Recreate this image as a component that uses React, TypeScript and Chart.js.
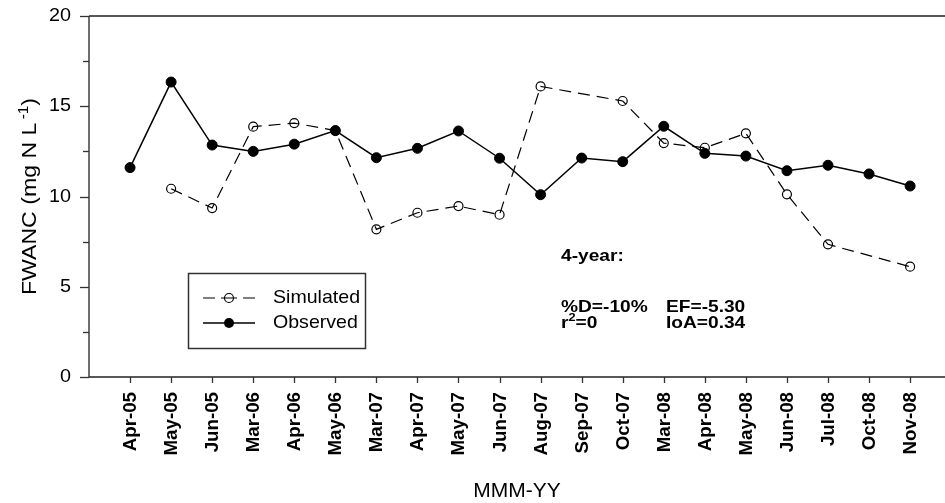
import React, { useEffect, useRef } from "react";
import { Chart, registerables } from "chart.js";

Chart.register(...registerables);

// Sampling months (MMM-YY)
const months: string[] = [
  "Apr-05", "May-05", "Jun-05", "Mar-06", "Apr-06", "May-06", "Mar-07",
  "Apr-07", "May-07", "Jun-07", "Aug-07", "Sep-07", "Oct-07", "Mar-08",
  "Apr-08", "May-08", "Jun-08", "Jul-08", "Oct-08", "Nov-08",
];

// Flow-weighted average nitrate concentration, mg N L-1
const simulated: (number | null)[] = [
  null, 10.43, 9.36, 13.87, 14.07, 13.65, 8.18, 9.1, 9.47, 8.99,
  16.1, null, 15.29, 12.96, 12.7, 13.5, 10.12, 7.35, null, 6.11,
];
const observed: number[] = [
  11.6, 16.34, 12.85, 12.5, 12.9, 13.65, 12.15, 12.67, 13.63, 12.12,
  10.1, 12.13, 11.93, 13.89, 12.39, 12.24, 11.43, 11.73, 11.25, 10.58,
];

const yTicks: number[] = [0, 2.5, 5, 7.5, 10, 12.5, 15, 17.5, 20];

const FONT = "'Liberation Sans', Arial, Helvetica, sans-serif";
const SIM_DASH = [12, 7];

// draw text with a horizontal stretch factor along its own baseline
function wideText(ctx: any, text: string, x: number, y: number, k: number, align: string) {
  ctx.save();
  ctx.translate(x, y);
  ctx.scale(k, 1);
  ctx.textAlign = align;
  ctx.fillText(text, 0, 0);
  ctx.restore();
}

const decorations = {
  id: "decorations",
  afterDraw(chart: any) {
    const { ctx, chartArea, scales } = chart;
    const xs = scales.x;
    const ys = scales.y;
    const L = chartArea.left;
    const R = chartArea.right;
    const T = chartArea.top;
    const B = chartArea.bottom;
    ctx.save();

    // frame lines: left axis, bottom axis, top edge
    ctx.lineWidth = 1.6;
    ctx.strokeStyle = "#4a4a4a";
    ctx.beginPath();
    ctx.moveTo(L, T);
    ctx.lineTo(L, B);
    ctx.stroke();
    ctx.strokeStyle = "#222";
    ctx.beginPath();
    ctx.moveTo(L, B);
    ctx.lineTo(R, B);
    ctx.moveTo(L, T);
    ctx.lineTo(R, T);
    ctx.stroke();

    // y ticks (major every 5, minor between) and labels
    ctx.strokeStyle = "#333";
    ctx.lineWidth = 1.3;
    ctx.fillStyle = "#000";
    ctx.font = `18px ${FONT}`;
    ctx.textBaseline = "middle";
    yTicks.forEach((v) => {
      const py = Math.round(ys.getPixelForValue(v)) + 0.5;
      const major = v % 5 === 0;
      const len = major ? 9 : 6;
      ctx.beginPath();
      ctx.moveTo(L - len, py);
      ctx.lineTo(L, py);
      ctx.stroke();
      if (major) wideText(ctx, String(v), 71, py, 1.1, "right");
    });

    // x ticks and rotated bold labels
    ctx.font = `bold 18px ${FONT}`;
    months.forEach((m, i) => {
      const px = Math.round(xs.getPixelForValue(i)) + 0.5;
      ctx.beginPath();
      ctx.moveTo(px, B);
      ctx.lineTo(px, B + 6);
      ctx.stroke();
      ctx.save();
      ctx.translate(px + 1, 392);
      ctx.rotate(-Math.PI / 2);
      ctx.scale(1.04, 1);
      ctx.textAlign = "right";
      ctx.textBaseline = "middle";
      ctx.fillText(m, 0, 0);
      ctx.restore();
    });

    // y-axis title with superscript
    const cy = (T + B) / 2;
    ctx.save();
    ctx.translate(36, cy);
    ctx.rotate(-Math.PI / 2);
    ctx.scale(1.1, 1);
    ctx.textBaseline = "alphabetic";
    ctx.textAlign = "left";
    const mainFont = `21px ${FONT}`;
    const supFont = `14px ${FONT}`;
    const t1 = "FWANC (mg N L";
    const t2 = "-1";
    const t3 = ")";
    ctx.font = mainFont;
    const w1 = ctx.measureText(t1).width;
    const w3 = ctx.measureText(t3).width;
    ctx.font = supFont;
    const w2 = ctx.measureText(t2).width;
    const gap = 3;
    let x0 = -(w1 + gap + w2 + w3) / 2;
    ctx.font = mainFont;
    ctx.fillText(t1, x0, 0);
    x0 += w1 + gap;
    ctx.font = supFont;
    ctx.fillText(t2, x0, -8);
    x0 += w2;
    ctx.font = mainFont;
    ctx.fillText(t3, x0, 0);
    ctx.restore();

    // x-axis title
    ctx.font = `20px ${FONT}`;
    ctx.textBaseline = "alphabetic";
    wideText(ctx, "MMM-YY", (L + R) / 2, 497, 1.05, "center");

    // legend
    ctx.strokeStyle = "#333";
    ctx.lineWidth = 1.5;
    ctx.strokeRect(188.5, 273.5, 177, 75);
    const rowSim = 298;
    const rowObs = 323;
    ctx.strokeStyle = "#000";
    ctx.lineWidth = 1.2;
    ctx.beginPath();
    ctx.moveTo(203, rowSim);
    ctx.lineTo(215, rowSim);
    ctx.moveTo(221, rowSim);
    ctx.lineTo(237, rowSim);
    ctx.moveTo(243, rowSim);
    ctx.lineTo(255, rowSim);
    ctx.stroke();
    ctx.beginPath();
    ctx.arc(229, rowSim, 4.5, 0, Math.PI * 2);
    ctx.stroke();
    ctx.lineWidth = 1.5;
    ctx.beginPath();
    ctx.moveTo(203, rowObs);
    ctx.lineTo(255, rowObs);
    ctx.stroke();
    ctx.beginPath();
    ctx.arc(229, rowObs, 5, 0, Math.PI * 2);
    ctx.fill();
    ctx.font = `19px ${FONT}`;
    ctx.textBaseline = "middle";
    wideText(ctx, "Simulated", 273, rowSim, 1.03, "left");
    wideText(ctx, "Observed", 273, rowObs, 1.03, "left");

    // fit statistics
    ctx.textBaseline = "alphabetic";
    const K = 1.16;
    const bold = `bold 16.5px ${FONT}`;
    ctx.font = bold;
    wideText(ctx, "4-year:", 561, 261, K, "left");
    wideText(ctx, "%D=-10%", 561, 312, K, "left");
    wideText(ctx, "EF=-5.30", 666, 312, K, "left");
    wideText(ctx, "r", 561, 328, K, "left");
    const wr = ctx.measureText("r").width * K;
    ctx.font = `bold 11px ${FONT}`;
    wideText(ctx, "2", 561 + wr, 321, K, "left");
    const w2b = ctx.measureText("2").width * K;
    ctx.font = bold;
    wideText(ctx, "=0", 561 + wr + w2b, 328, K, "left");
    wideText(ctx, "IoA=0.34", 666, 328, K, "left");

    ctx.restore();
  },
};

export default function App() {
  const canvasRef = useRef<HTMLCanvasElement | null>(null);

  useEffect(() => {
    const canvas = canvasRef.current;
    if (!canvas) return;
    const chart = new Chart(canvas, {
      type: "line",
      data: {
        datasets: [
          {
            label: "Simulated",
            data: simulated.map((v, i) => ({ x: i, y: v })),
            borderColor: "#000",
            borderWidth: 1.2,
            borderDash: SIM_DASH,
            backgroundColor: "rgba(0,0,0,0)",
            pointBackgroundColor: "rgba(0,0,0,0)",
            pointBorderColor: "#000",
            pointBorderWidth: 1.2,
            pointRadius: 4.5,
            spanGaps: true,
            tension: 0,
            order: 2,
          },
          {
            label: "Observed",
            data: observed.map((v, i) => ({ x: i, y: v })),
            borderColor: "#000",
            borderWidth: 1.5,
            backgroundColor: "#000",
            pointBackgroundColor: "#000",
            pointBorderColor: "#000",
            pointBorderWidth: 1,
            pointRadius: 5,
            tension: 0,
            order: 1,
          },
        ],
      },
      options: {
        responsive: false,
        animation: false,
        devicePixelRatio: 1,
        layout: { autoPadding: false, padding: { top: 16, right: 0, left: 0, bottom: 0 } },
        plugins: {
          legend: { display: false },
          tooltip: { enabled: false },
          title: { display: false },
        },
        scales: {
          x: {
            type: "linear",
            min: -1,
            max: 19.85,
            afterBuildTicks: (scale: any) => {
              scale.ticks = months.map((_, i) => ({ value: i }));
            },
            afterFit: (scale: any) => {
              scale.height = 126;
              scale.paddingLeft = 0;
              scale.paddingRight = 0;
            },
            grid: { display: false },
            border: { display: false },
            ticks: { display: false, autoSkip: false },
          },
          y: {
            type: "linear",
            min: 0,
            max: 20,
            afterBuildTicks: (scale: any) => {
              scale.ticks = yTicks.map((v) => ({ value: v }));
            },
            afterFit: (scale: any) => {
              scale.width = 89;
              scale.paddingTop = 0;
              scale.paddingBottom = 0;
            },
            grid: { display: false },
            border: { display: false },
            ticks: { display: false, autoSkip: false },
          },
        },
      },
      plugins: [decorations],
    });
    return () => chart.destroy();
  }, []);

  return (
    <div style={{ position: "fixed", left: 0, top: 0, width: 945, height: 503, background: "#fff" }}>
      <canvas ref={canvasRef} width={945} height={503} style={{ display: "block" }} />
    </div>
  );
}
